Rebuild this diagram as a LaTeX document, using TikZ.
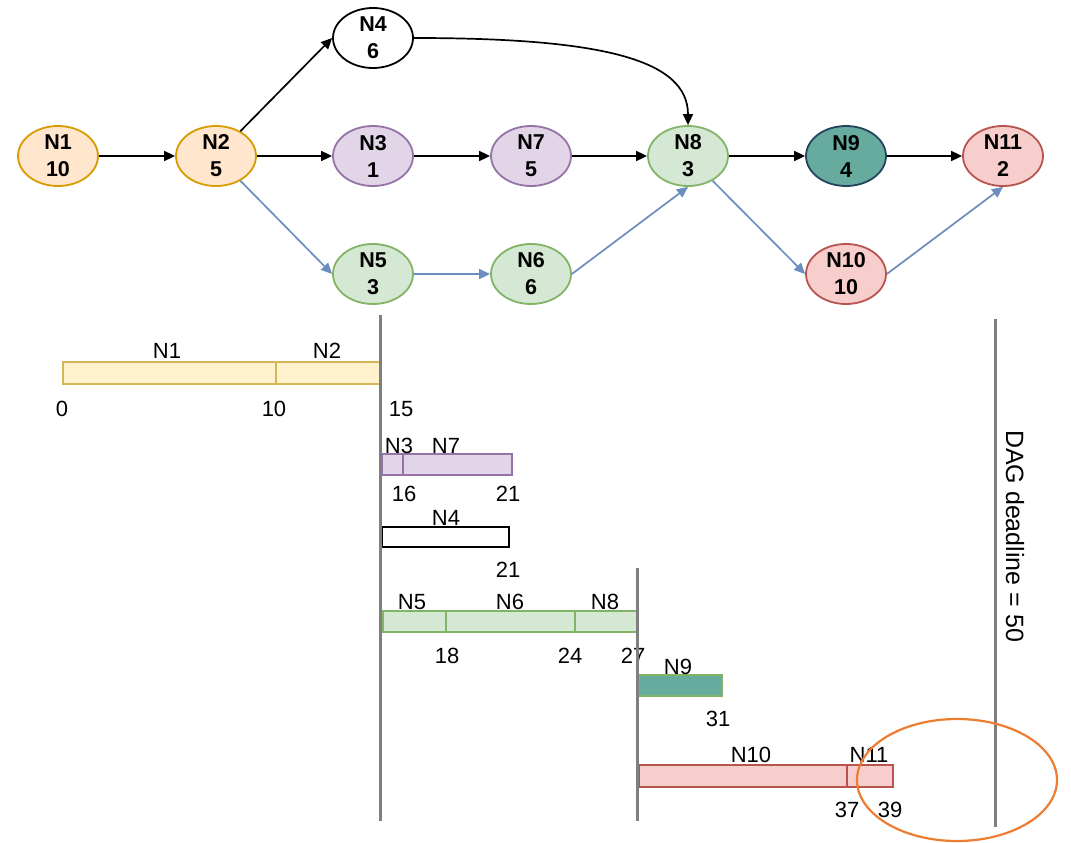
\documentclass[tikz,border=0pt]{standalone}
\usepackage{fontspec}
\setmainfont{Liberation Sans}
\usetikzlibrary{arrows.meta,shapes.geometric}

\definecolor{orgfill}{HTML}{FFE6CC}
\definecolor{orgline}{HTML}{D79B00}
\definecolor{purfill}{HTML}{E1D5E7}
\definecolor{purline}{HTML}{9673A6}
\definecolor{grnfill}{HTML}{D5E8D4}
\definecolor{grnline}{HTML}{82B366}
\definecolor{redfill}{HTML}{F8CECC}
\definecolor{redline}{HTML}{B85450}
\definecolor{tealfill}{HTML}{67AB9F}
\definecolor{tealline}{HTML}{23445D}
\definecolor{yelfill}{HTML}{FFF2CC}
\definecolor{yelline}{HTML}{D6B656}
\definecolor{bluearrow}{HTML}{6C8EBF}
\definecolor{axisgray}{HTML}{7F7F7F}
\definecolor{ringorange}{HTML}{ED7D31}

\begin{document}
\begin{tikzpicture}[x=1pt,y=-1pt,
  task/.style={ellipse, draw, line width=1.8pt, minimum width=80pt, minimum height=60pt,
    inner sep=0pt, align=center, font=\fontsize{21.5}{27}\selectfont\bfseries},
  orangetask/.style={task, fill=orgfill, draw=orgline},
  purpletask/.style={task, fill=purfill, draw=purline},
  greentask/.style={task, fill=grnfill, draw=grnline},
  redtask/.style={task, fill=redfill, draw=redline},
  tealtask/.style={task, fill=tealfill, draw=tealline},
  plaintask/.style={task, fill=white, draw=black},
  dep/.style={-{Triangle[length=11pt,width=10pt]}, line width=1.7pt, draw=black},
  bluedep/.style={dep, draw=bluearrow},
  tag/.style={font=\fontsize{22}{26}\selectfont, inner sep=0pt, anchor=base},
  bar/.style={line width=2.2pt},
  marker/.style={draw=axisgray, line width=3pt}
]
\useasboundingbox (0,0) rectangle (1071,843);

% ---------- task graph ----------
\node[orangetask] (n1)  at (58,156)  {N1\\10};
\node[orangetask] (n2)  at (216,156) {N2\\5};
\node[plaintask]  (n4)  at (373,38)  {N4\\6};
\node[purpletask] (n3)  at (373,156) {N3\\1};
\node[purpletask] (n7)  at (531,156) {N7\\5};
\node[greentask]  (n8)  at (688,156) {N8\\3};
\node[tealtask]   (n9)  at (846,156) {N9\\4};
\node[redtask]    (n11) at (1003,156) {N11\\2};
\node[greentask]  (n5)  at (373,274) {N5\\3};
\node[greentask]  (n6)  at (531,274) {N6\\6};
\node[redtask]    (n10) at (846,274) {N10\\10};

\draw[dep] (n1) -- (n2);
\draw[dep] (n2) -- (n3);
\draw[dep] (n3) -- (n7);
\draw[dep] (n7) -- (n8);
\draw[dep] (n8) -- (n9);
\draw[dep] (n9) -- (n11);
\draw[dep] (n2) -- (n4.west);
\draw[dep] (n4.east) .. controls +(187,0) and +(0,-66) .. (n8.north);

\draw[bluedep] (n2) -- (n5.west);
\draw[bluedep] (n5) -- (n6);
\draw[bluedep] (n6.east) -- (n8.south);
\draw[bluedep] (n8) -- (n10.west);
\draw[bluedep] (n10.east) -- (n11.south);

% ---------- schedule ----------
% N1, N2
\draw[bar, fill=yelfill, draw=yelline] (63,362) rectangle (276,384);
\draw[bar, fill=yelfill, draw=yelline] (276,362) rectangle (381,384);
\node[tag] (s1) at (167,358) {N1};
\node[tag] (s2) at (327,358) {N2};
\node[tag] (t0)  at (62,416)  {0};
\node[tag] (t10) at (274,416) {10};
\node[tag] (t15) at (401,416) {15};

% N3, N7
\draw[bar, fill=purfill, draw=purline] (382,454) rectangle (403,475);
\draw[bar, fill=purfill, draw=purline] (403,454) rectangle (512,475);
\node[tag] (s3) at (399,453) {N3};
\node[tag] (s7) at (446,453) {N7};
\node[tag] (t16) at (404,501) {16};
\node[tag] (t21a) at (508,501) {21};

% N4
\draw[bar, fill=white, draw=black] (382,527) rectangle (509,547);
\node[tag] (s4) at (446,525) {N4};
\node[tag] (t21b) at (508,577) {21};

% N5, N6, N8
\draw[bar, fill=grnfill, draw=grnline] (383,611) rectangle (446,632);
\draw[bar, fill=grnfill, draw=grnline] (446,611) rectangle (575,632);
\draw[bar, fill=grnfill, draw=grnline] (575,611) rectangle (637,632);
\node[tag] (s5) at (412,609) {N5};
\node[tag] (s6) at (510,609) {N6};
\node[tag] (s8) at (605,609) {N8};
\node[tag] (t18) at (447,663) {18};
\node[tag] (t24) at (570,663) {24};
\node[tag] (t27) at (633,663) {27};

% N9
\draw[bar, fill=tealfill, draw=grnline] (639,675) rectangle (722,696);
\node[tag] (s9) at (678,674) {N9};
\node[tag] (t31) at (718,726) {31};

% N10, N11
\draw[bar, fill=redfill, draw=redline] (639,765) rectangle (847,787);
\draw[bar, fill=redfill, draw=redline] (847,765) rectangle (893,787);
\node[tag] (s10) at (751,762) {N10};
\node[tag] (s11) at (869,762) {N11};
\node[tag] (t37) at (847,817) {37};
\node[tag] (t39) at (890,817) {39};

% time markers
\draw[marker] (380,315) -- (380,821);
\draw[marker] (637,568) -- (637,821);
\draw[marker] (995,319) -- (995,827);
\node[font=\fontsize{25}{30}\selectfont, inner sep=0pt, rotate=-90] (deadline) at (1015,536) {DAG deadline = 50};

% highlight ring
\draw[ringorange, line width=2.2pt] (957,780) ellipse [x radius=100pt, y radius=61pt];
\end{tikzpicture}
\end{document}
